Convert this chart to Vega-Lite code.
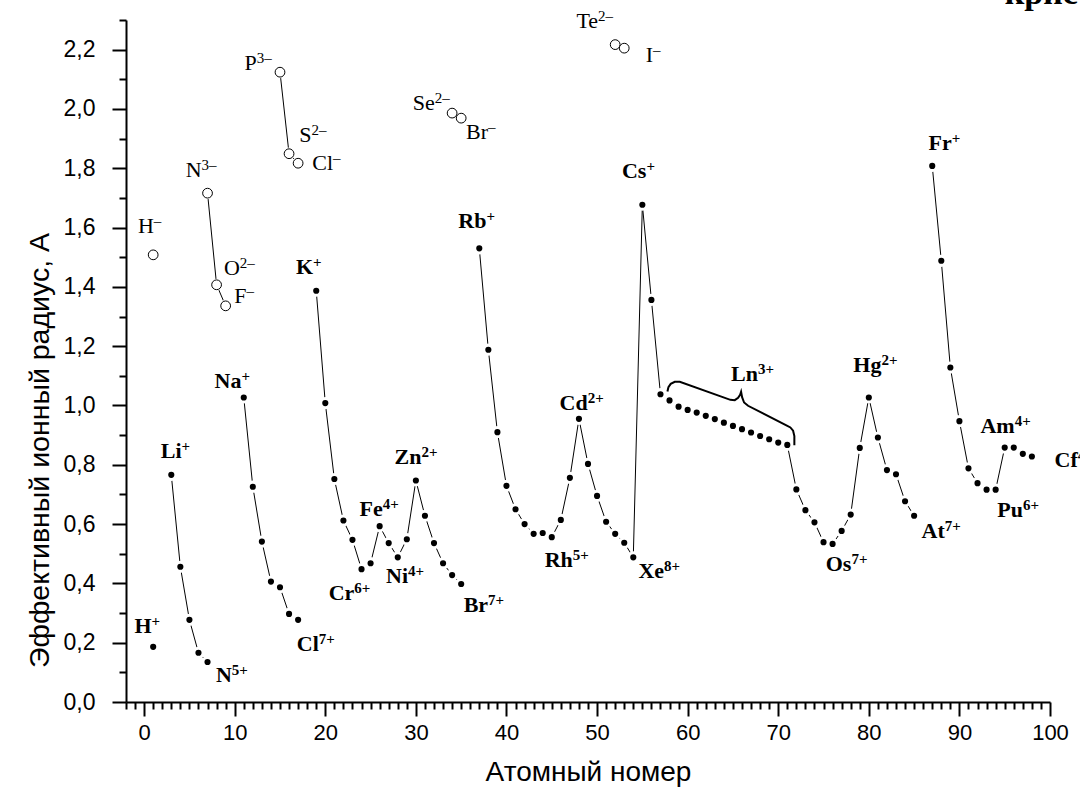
{
  "$schema": "https://vega.github.io/schema/vega-lite/v6.json",
  "autosize": "none",
  "width": 924,
  "height": 682,
  "padding": {"left": 126, "top": 20, "right": 30, "bottom": 105},
  "background": "white",
  "config": {"view": {"stroke": null}, "axis": {"grid": false}},
  "datasets": {
    "pts": [
      {"x": 1, "y": 0.186, "g": "c1", "t": "c"},
      {"x": 3, "y": 0.766, "g": "c2", "t": "c"},
      {"x": 4, "y": 0.456, "g": "c2", "t": "c"},
      {"x": 5, "y": 0.277, "g": "c2", "t": "c"},
      {"x": 6, "y": 0.166, "g": "c2", "t": "c"},
      {"x": 7, "y": 0.135, "g": "c2", "t": "c"},
      {"x": 11, "y": 1.027, "g": "c3", "t": "c"},
      {"x": 12, "y": 0.726, "g": "c3", "t": "c"},
      {"x": 13, "y": 0.541, "g": "c3", "t": "c"},
      {"x": 14, "y": 0.406, "g": "c3", "t": "c"},
      {"x": 15, "y": 0.387, "g": "c3", "t": "c"},
      {"x": 16, "y": 0.297, "g": "c3", "t": "c"},
      {"x": 17, "y": 0.277, "g": "c3", "t": "c"},
      {"x": 19, "y": 1.387, "g": "c4", "t": "c"},
      {"x": 20, "y": 1.008, "g": "c4", "t": "c"},
      {"x": 21, "y": 0.752, "g": "c4", "t": "c"},
      {"x": 22, "y": 0.612, "g": "c4", "t": "c"},
      {"x": 23, "y": 0.547, "g": "c4", "t": "c"},
      {"x": 24, "y": 0.448, "g": "c4", "t": "c"},
      {"x": 25, "y": 0.468, "g": "c4", "t": "c"},
      {"x": 26, "y": 0.593, "g": "c4", "t": "c"},
      {"x": 27, "y": 0.536, "g": "c4", "t": "c"},
      {"x": 28, "y": 0.488, "g": "c4", "t": "c"},
      {"x": 29, "y": 0.549, "g": "c4", "t": "c"},
      {"x": 30, "y": 0.747, "g": "c4", "t": "c"},
      {"x": 31, "y": 0.628, "g": "c4", "t": "c"},
      {"x": 32, "y": 0.536, "g": "c4", "t": "c"},
      {"x": 33, "y": 0.468, "g": "c4", "t": "c"},
      {"x": 34, "y": 0.428, "g": "c4", "t": "c"},
      {"x": 35, "y": 0.398, "g": "c4", "t": "c"},
      {"x": 37, "y": 1.53, "g": "c5", "t": "c"},
      {"x": 38, "y": 1.188, "g": "c5", "t": "c"},
      {"x": 39, "y": 0.91, "g": "c5", "t": "c"},
      {"x": 40, "y": 0.729, "g": "c5", "t": "c"},
      {"x": 41, "y": 0.65, "g": "c5", "t": "c"},
      {"x": 42, "y": 0.6, "g": "c5", "t": "c"},
      {"x": 43, "y": 0.567, "g": "c5", "t": "c"},
      {"x": 44, "y": 0.57, "g": "c5", "t": "c"},
      {"x": 45, "y": 0.556, "g": "c5", "t": "c"},
      {"x": 46, "y": 0.614, "g": "c5", "t": "c"},
      {"x": 47, "y": 0.756, "g": "c5", "t": "c"},
      {"x": 48, "y": 0.955, "g": "c5", "t": "c"},
      {"x": 49, "y": 0.803, "g": "c5", "t": "c"},
      {"x": 50, "y": 0.695, "g": "c5", "t": "c"},
      {"x": 51, "y": 0.608, "g": "c5", "t": "c"},
      {"x": 52, "y": 0.567, "g": "c5", "t": "c"},
      {"x": 53, "y": 0.537, "g": "c5", "t": "c"},
      {"x": 54, "y": 0.488, "g": "c5", "t": "c"},
      {"x": 55, "y": 1.677, "g": "c5", "t": "c"},
      {"x": 56, "y": 1.356, "g": "c5", "t": "c"},
      {"x": 57, "y": 1.038, "g": "c5", "t": "c"},
      {"x": 58, "y": 1.017, "g": "c5", "t": "c"},
      {"x": 59, "y": 0.996, "g": "c5", "t": "c"},
      {"x": 60, "y": 0.985, "g": "c5", "t": "c"},
      {"x": 61, "y": 0.976, "g": "c5", "t": "c"},
      {"x": 62, "y": 0.965, "g": "c5", "t": "c"},
      {"x": 63, "y": 0.954, "g": "c5", "t": "c"},
      {"x": 64, "y": 0.942, "g": "c5", "t": "c"},
      {"x": 65, "y": 0.931, "g": "c5", "t": "c"},
      {"x": 66, "y": 0.92, "g": "c5", "t": "c"},
      {"x": 67, "y": 0.909, "g": "c5", "t": "c"},
      {"x": 68, "y": 0.897, "g": "c5", "t": "c"},
      {"x": 69, "y": 0.886, "g": "c5", "t": "c"},
      {"x": 70, "y": 0.875, "g": "c5", "t": "c"},
      {"x": 71, "y": 0.867, "g": "c5", "t": "c"},
      {"x": 72, "y": 0.717, "g": "c5", "t": "c"},
      {"x": 73, "y": 0.647, "g": "c5", "t": "c"},
      {"x": 74, "y": 0.606, "g": "c5", "t": "c"},
      {"x": 75, "y": 0.539, "g": "c5", "t": "c"},
      {"x": 76, "y": 0.533, "g": "c5", "t": "c"},
      {"x": 77, "y": 0.577, "g": "c5", "t": "c"},
      {"x": 78, "y": 0.632, "g": "c5", "t": "c"},
      {"x": 79, "y": 0.857, "g": "c5", "t": "c"},
      {"x": 80, "y": 1.027, "g": "c5", "t": "c"},
      {"x": 81, "y": 0.892, "g": "c5", "t": "c"},
      {"x": 82, "y": 0.782, "g": "c5", "t": "c"},
      {"x": 83, "y": 0.768, "g": "c5", "t": "c"},
      {"x": 84, "y": 0.677, "g": "c5", "t": "c"},
      {"x": 85, "y": 0.628, "g": "c5", "t": "c"},
      {"x": 87, "y": 1.808, "g": "c6", "t": "c"},
      {"x": 88, "y": 1.488, "g": "c6", "t": "c"},
      {"x": 89, "y": 1.128, "g": "c6", "t": "c"},
      {"x": 90, "y": 0.947, "g": "c6", "t": "c"},
      {"x": 91, "y": 0.788, "g": "c6", "t": "c"},
      {"x": 92, "y": 0.738, "g": "c6", "t": "c"},
      {"x": 93, "y": 0.716, "g": "c6", "t": "c"},
      {"x": 94, "y": 0.716, "g": "c6", "t": "c"},
      {"x": 95, "y": 0.858, "g": "c6", "t": "c"},
      {"x": 96, "y": 0.858, "g": "c6", "t": "c"},
      {"x": 97, "y": 0.837, "g": "c6", "t": "c"},
      {"x": 98, "y": 0.828, "g": "c6", "t": "c"},
      {"x": 1, "y": 1.508, "g": "a1", "t": "a"},
      {"x": 7, "y": 1.716, "g": "a2", "t": "a"},
      {"x": 8, "y": 1.407, "g": "a2", "t": "a"},
      {"x": 9, "y": 1.336, "g": "a2", "t": "a"},
      {"x": 15, "y": 2.124, "g": "a3", "t": "a"},
      {"x": 16, "y": 1.849, "g": "a3", "t": "a"},
      {"x": 17, "y": 1.817, "g": "a3", "t": "a"},
      {"x": 34, "y": 1.986, "g": "a4", "t": "a"},
      {"x": 35, "y": 1.969, "g": "a4", "t": "a"},
      {"x": 52, "y": 2.217, "g": "a5", "t": "a"},
      {"x": 53, "y": 2.205, "g": "a5", "t": "a"}
    ],
    "labels": [
      {"x": 0.82, "y": 0.232, "b": "H", "s": "+", "k": "c"},
      {"x": 4.13, "y": 0.822, "b": "Li", "s": "+", "k": "c"},
      {"x": 9.68, "y": 0.067, "b": "N", "s": "5+", "k": "c"},
      {"x": 10.75, "y": 1.059, "b": "Na", "s": "+", "k": "c"},
      {"x": 19.28, "y": 0.173, "b": "Cl", "s": "7+", "k": "c"},
      {"x": 18.65, "y": 1.444, "b": "K", "s": "+", "k": "c"},
      {"x": 23.2, "y": 0.343, "b": "Cr", "s": "6+", "k": "c"},
      {"x": 26.35, "y": 0.628, "b": "Fe", "s": "4+", "k": "c"},
      {"x": 29.14, "y": 0.4, "b": "Ni", "s": "4+", "k": "c"},
      {"x": 30.62, "y": 0.802, "b": "Zn", "s": "2+", "k": "c"},
      {"x": 37.97, "y": 0.305, "b": "Br", "s": "7+", "k": "c"},
      {"x": 37.79, "y": 1.598, "b": "Rb", "s": "+", "k": "c"},
      {"x": 48.97, "y": 0.985, "b": "Cd", "s": "2+", "k": "c"},
      {"x": 47.32, "y": 0.455, "b": "Rh", "s": "5+", "k": "c"},
      {"x": 57.4, "y": 0.417, "b": "Xe", "s": "8+", "k": "c"},
      {"x": 55.45, "y": 1.767, "b": "Cs", "s": "+", "k": "c"},
      {"x": 67.77, "y": 1.081, "b": "Ln", "s": "3+", "k": "c"},
      {"x": 81.39, "y": 1.114, "b": "Hg", "s": "2+", "k": "c"},
      {"x": 78.08, "y": 0.443, "b": "Os", "s": "7+", "k": "c"},
      {"x": 88.38, "y": 0.552, "b": "At", "s": "7+", "k": "c"},
      {"x": 89.15, "y": 1.862, "b": "Fr", "s": "+", "k": "c"},
      {"x": 96.1, "y": 0.907, "b": "Am", "s": "4+", "k": "c"},
      {"x": 97.02, "y": 0.625, "b": "Pu", "s": "6+", "k": "c"},
      {"x": 103.06, "y": 0.794, "b": "Cf", "s": "4+", "k": "c"},
      {"x": 1.07, "y": 1.581, "b": "H", "s": "–", "k": "a"},
      {"x": 6.34, "y": 1.772, "b": "N", "s": "3–", "k": "a"},
      {"x": 10.56, "y": 1.441, "b": "O", "s": "2–", "k": "a"},
      {"x": 11.3, "y": 1.345, "b": "F", "s": "–", "k": "a"},
      {"x": 12.44, "y": 2.132, "b": "P", "s": "3–", "k": "a"},
      {"x": 18.48, "y": 1.89, "b": "S", "s": "2–", "k": "a"},
      {"x": 20.86, "y": 1.795, "b": "Cl", "s": "–", "k": "a"},
      {"x": 32.09, "y": 1.997, "b": "Se", "s": "2–", "k": "a"},
      {"x": 37.97, "y": 1.898, "b": "Br", "s": "–", "k": "a"},
      {"x": 50.11, "y": 2.273, "b": "Te", "s": "2–", "k": "a"},
      {"x": 56.18, "y": 2.16, "b": "I", "s": "–", "k": "a"}
    ],
    "brace": [
      {"x": 57.77, "y": 1.047, "o": 1},
      {"x": 57.88, "y": 1.062, "o": 2},
      {"x": 58.13, "y": 1.073, "o": 3},
      {"x": 58.58, "y": 1.08, "o": 4},
      {"x": 59.13, "y": 1.08, "o": 5},
      {"x": 64.72, "y": 1.019, "o": 6},
      {"x": 65.2, "y": 1.018, "o": 7},
      {"x": 65.57, "y": 1.026, "o": 8},
      {"x": 65.79, "y": 1.036, "o": 9},
      {"x": 65.9, "y": 1.046, "o": 10},
      {"x": 66.01, "y": 1.028, "o": 11},
      {"x": 66.23, "y": 1.01, "o": 12},
      {"x": 66.67, "y": 0.999, "o": 13},
      {"x": 70.9, "y": 0.933, "o": 14},
      {"x": 71.34, "y": 0.926, "o": 15},
      {"x": 71.64, "y": 0.915, "o": 16},
      {"x": 71.78, "y": 0.897, "o": 17},
      {"x": 71.78, "y": 0.866, "o": 18}
    ],
    "title": [
      {"x": 95.0, "y": 2.355, "txt": "кристаллический"}
    ]
  },
  "encoding": {
    "x": {
      "field": "x", "type": "quantitative",
      "scale": {"domain": [-2, 100], "nice": false, "zero": false},
      "axis": {
        "title": "Атомный номер",
        "values": [-2,-1,0,1,2,3,4,5,6,7,8,9,10,11,12,13,14,15,16,17,18,19,20,21,22,23,24,25,26,27,28,29,30,31,32,33,34,35,36,37,38,39,40,41,42,43,44,45,46,47,48,49,50,51,52,53,54,55,56,57,58,59,60,61,62,63,64,65,66,67,68,69,70,71,72,73,74,75,76,77,78,79,80,81,82,83,84,85,86,87,88,89,90,91,92,93,94,95,96,97,98,99,100],
        "tickSize": {"condition": {"test": "datum.value % 10 === 0", "value": 14}, "value": 7},
        "labelExpr": "datum.value % 10 === 0 ? format(datum.value, 'd') : ''",
        "labelFont": "Liberation Sans", "labelFontSize": 22, "labelColor": "black",
        "labelPadding": 6, "labelOverlap": false, "labelFlush": false, "labelBound": false,
        "domainColor": "black", "domainWidth": 2, "tickColor": "black", "tickWidth": 2,
        "titleFont": "Liberation Sans", "titleFontSize": 28, "titleFontWeight": "normal",
        "titleColor": "black", "titleY": 56, "titleBaseline": "top"
      }
    },
    "y": {
      "field": "y", "type": "quantitative",
      "scale": {"domain": [0, 2.3], "nice": false, "zero": false},
      "axis": {
        "title": "Эффективный ионный радиус, А",
        "values": [0,0.1,0.2,0.3,0.4,0.5,0.6,0.7,0.8,0.9,1.0,1.1,1.2,1.3,1.4,1.5,1.6,1.7,1.8,1.9,2.0,2.1,2.2,2.3],
        "tickSize": {"condition": {"test": "round(datum.value * 10) % 2 === 0", "value": 14}, "value": 7},
        "labelExpr": "round(datum.value * 10) % 2 === 0 ? replace(format(datum.value, '.1f'), '.', ',') : ''",
        "labelFont": "Liberation Sans", "labelFontSize": 23, "labelColor": "black", "labelAlign": "right",
        "labelPadding": 17, "labelOverlap": false, "labelFlush": false, "labelBound": false,
        "domainColor": "black", "domainWidth": 2, "tickColor": "black", "tickWidth": 2,
        "titleFont": "Liberation Sans", "titleFontSize": 28.5, "titleFontWeight": "normal",
        "titleColor": "black", "titleX": -87, "titleY": 430, "titleBaseline": "middle"
      }
    }
  },
  "layer": [
    {
      "data": {"name": "pts"},
      "mark": {"type": "line", "color": "black", "strokeWidth": 1},
      "encoding": {"detail": {"field": "g"}, "order": {"field": "x"}}
    },
    {
      "data": {"name": "pts"},
      "mark": {"type": "circle", "color": "white", "size": 150, "opacity": 1}
    },
    {
      "data": {"name": "brace"},
      "mark": {"type": "line", "color": "black", "strokeWidth": 2},
      "encoding": {"order": {"field": "o"}}
    },
    {
      "data": {"name": "pts"},
      "transform": [{"filter": "datum.t === 'a'"}],
      "mark": {"type": "point", "shape": "circle", "filled": false, "fill": "white", "fillOpacity": 1, "stroke": "black", "strokeWidth": 1, "size": 95, "opacity": 1}
    },
    {
      "data": {"name": "pts"},
      "transform": [{"filter": "datum.t === 'c'"}],
      "mark": {"type": "circle", "color": "black", "size": 38, "opacity": 1}
    },
    {
      "data": {"name": "labels"},
      "transform": [{"filter": "datum.k === 'c'"}],
      "mark": {"type": "text", "align": "right", "baseline": "alphabetic", "font": "Liberation Serif", "fontSize": 22, "fontWeight": "bold", "color": "black"},
      "encoding": {"text": {"field": "b"}}
    },
    {
      "data": {"name": "labels"},
      "transform": [{"filter": "datum.k === 'c'"}],
      "mark": {"type": "text", "align": "left", "baseline": "alphabetic", "font": "Liberation Serif", "fontSize": 15, "fontWeight": "bold", "dy": -7, "color": "black"},
      "encoding": {"text": {"field": "s"}}
    },
    {
      "data": {"name": "labels"},
      "transform": [{"filter": "datum.k === 'a'"}],
      "mark": {"type": "text", "align": "right", "baseline": "alphabetic", "font": "Liberation Serif", "fontSize": 22, "fontWeight": "normal", "color": "black"},
      "encoding": {"text": {"field": "b"}}
    },
    {
      "data": {"name": "labels"},
      "transform": [{"filter": "datum.k === 'a'"}],
      "mark": {"type": "text", "align": "left", "baseline": "alphabetic", "font": "Liberation Serif", "fontSize": 15, "fontWeight": "normal", "dy": -7, "color": "black"},
      "encoding": {"text": {"field": "s"}}
    },
    {
      "data": {"name": "title"},
      "mark": {"type": "text", "align": "left", "baseline": "alphabetic", "font": "Liberation Serif", "fontSize": 34, "fontWeight": "bold", "color": "black"},
      "encoding": {"text": {"field": "txt"}}
    }
  ]
}
